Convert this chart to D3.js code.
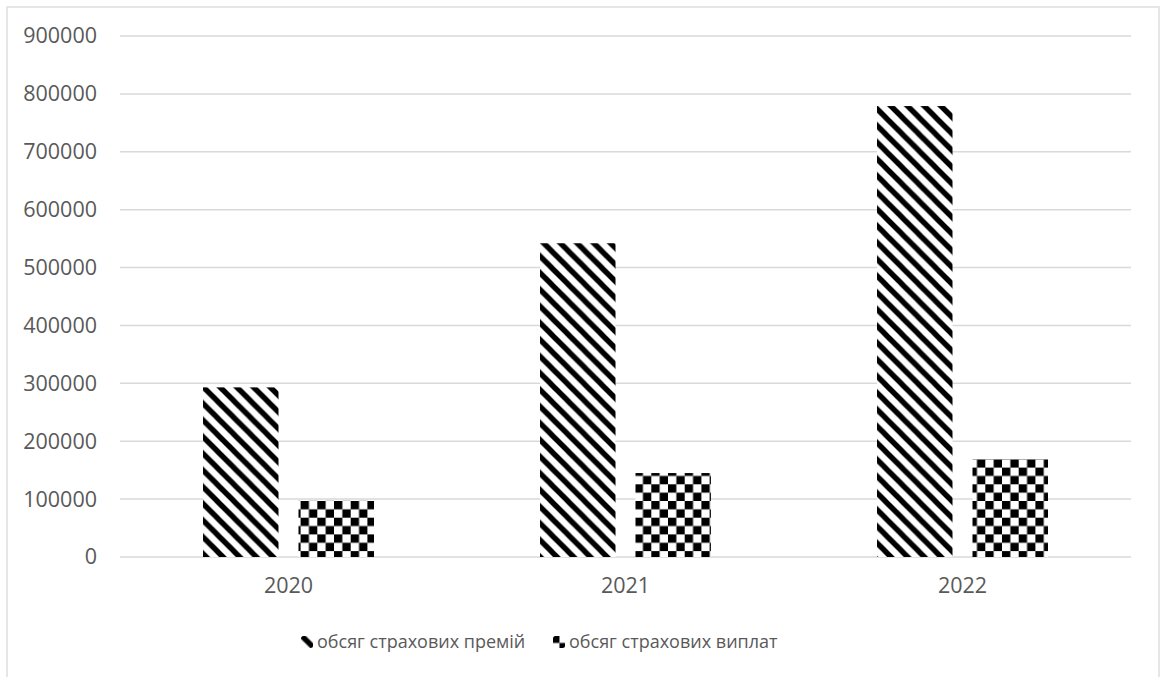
<!DOCTYPE html>
<html>
<head>
<meta charset="utf-8">
<script src="https://cdn.jsdelivr.net/npm/d3@7"></script>
<style>
  html, body { margin: 0; padding: 0; background: #fff; }
  svg { display: block; }
  text { font-family: "Open Sans", "Liberation Sans", sans-serif; fill: #595959; }
</style>
</head>
<body>
<svg id="chart" width="1166" height="677"></svg>
<script>
// Insurance premiums vs. payouts, 2020–2022
const years = ["2020", "2021", "2022"];
const premiums = [293000, 542000, 779000];
const payouts = [97000, 145000, 169000];
const seriesNames = ["обсяг страхових премій", "обсяг страхових виплат"];
const yTicks = [0, 100000, 200000, 300000, 400000, 500000, 600000, 700000, 800000, 900000];

const W = 1166, H = 677;
const margin = { left: 120, right: 35, top: 36, bottom: 120 };
const svg = d3.select("#chart");

const x = d3.scaleBand().domain(years).range([margin.left, W - margin.right]).paddingInner(0).paddingOuter(0);
const y = d3.scaleLinear().domain([0, 900000]).range([H - margin.bottom, margin.top]);

// fill patterns: wide downward diagonal and large checkerboard
const T = 16.7;
const defs = svg.append("defs");
const diag = defs.append("pattern").attr("id", "diag")
  .attr("patternUnits", "userSpaceOnUse").attr("width", T).attr("height", T);
diag.append("rect").attr("width", T).attr("height", T).attr("fill", "#fff");
[-T, 0, T].forEach(dx => {
  diag.append("line").attr("x1", dx - 6).attr("y1", -6).attr("x2", dx + T + 6).attr("y2", T + 6)
    .attr("stroke", "#000").attr("stroke-width", 5.4);
});
const chk = defs.append("pattern").attr("id", "chk")
  .attr("patternUnits", "userSpaceOnUse").attr("width", T).attr("height", T);
chk.append("rect").attr("width", T).attr("height", T).attr("fill", "#fff");
chk.append("rect").attr("width", T / 2).attr("height", T / 2).attr("fill", "#000");
chk.append("rect").attr("x", T / 2).attr("y", T / 2).attr("width", T / 2).attr("height", T / 2).attr("fill", "#000");

// chart frame
svg.append("rect").attr("x", 7).attr("y", 7).attr("width", 1152).attr("height", 700)
  .attr("fill", "none").attr("stroke", "#d9d9d9").attr("stroke-width", 1.3);

// gridlines
svg.append("g").selectAll("line").data(yTicks).join("line")
  .attr("x1", margin.left).attr("x2", W - margin.right)
  .attr("y1", d => y(d)).attr("y2", d => y(d))
  .attr("stroke", "#d9d9d9").attr("stroke-width", 1.5);

// y axis labels
const yAxis = d3.axisLeft(y).tickValues(yTicks).tickFormat(d3.format("d")).tickSize(0).tickPadding(23);
const gy = svg.append("g").attr("transform", `translate(${margin.left},0)`).call(yAxis);
gy.select(".domain").remove();
gy.selectAll("text").attr("font-size", 21.5).attr("fill", "#595959")
  .style("font-family", '"Open Sans", sans-serif');

// x axis labels
const xAxis = d3.axisBottom(x).tickSize(0).tickPadding(21);
const gx = svg.append("g").attr("transform", `translate(0,${y(0)})`).call(xAxis);
gx.select(".domain").remove();
gx.selectAll("text").attr("font-size", 21.5).attr("fill", "#595959")
  .style("font-family", '"Open Sans", sans-serif');

// bars
const barW = 75.5, gap = 20;
const offset = (x.bandwidth() - (2 * barW + gap)) / 2;
const series = [premiums, payouts];
const fills = ["url(#diag)", "url(#chk)"];
series.forEach((vals, si) => {
  svg.append("g").selectAll("rect").data(vals).join("rect")
    .attr("x", (d, i) => x(years[i]) + offset + si * (barW + gap))
    .attr("width", barW)
    .attr("y", d => y(d))
    .attr("height", d => y(0) - y(d))
    .attr("fill", fills[si]);
});

// legend
const legendY = 642;
const legendItems = [{ x: 301, name: seriesNames[0], fill: fills[0] }, { x: 553, name: seriesNames[1], fill: fills[1] }];
const lg = svg.append("g");
legendItems.forEach(item => {
  lg.append("rect").attr("x", item.x).attr("y", legendY - 6).attr("width", 12).attr("height", 12)
    .attr("rx", 2.5).attr("fill", item.fill);
  lg.append("text").attr("x", item.x + 16).attr("y", legendY).attr("dy", "0.35em")
    .attr("font-size", 18).text(item.name);
});
</script>
</body>
</html>
